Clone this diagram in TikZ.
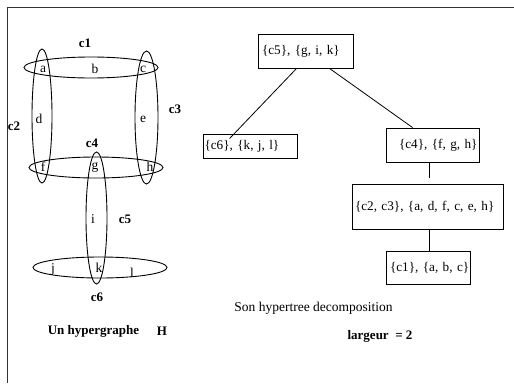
\documentclass[tikz,border=0pt]{standalone}
\usepackage{fontspec}
\setmainfont{Liberation Serif}
\begin{document}
\begin{tikzpicture}[x=1pt,y=-1pt,
  lbl/.style={font=\fontsize{13.5}{15}\selectfont, inner sep=0pt},
  bl/.style={font=\fontsize{13}{15}\selectfont\bfseries, inner sep=0pt},
  hedge/.style={draw=black, line width=0.9pt},
  tbox/.style={draw=black, line width=0.9pt, rectangle, font=\fontsize{13.2}{15}\selectfont, inner ysep=0pt},
  tline/.style={draw=black, line width=0.8pt}]
\useasboundingbox (0,0) rectangle (514,383);
% frame
\draw[line width=1pt, black!80] (514,7) -- (7.5,7) -- (7.5,383);
% hyperedges
\draw[hedge] (91,67.5) ellipse [x radius=67pt, y radius=10.5pt];
\draw[hedge] (42,116) ellipse [x radius=10pt, y radius=67pt];
\draw[hedge] (146.5,117.5) ellipse [x radius=11.5pt, y radius=66.5pt];
\draw[hedge] (96,167.5) ellipse [x radius=67pt, y radius=10.5pt];
\draw[hedge] (96.5,218) ellipse [x radius=10.5pt, y radius=66pt];
\draw[hedge] (100,267.5) ellipse [x radius=67pt, y radius=10.5pt];
% vertices
\node[lbl] (va) at (43,69) {a};
\node[lbl] (vb) at (95,69) {b};
\node[lbl] (vc) at (143,69) {c};
\node[lbl] (vd) at (39,119) {d};
\node[lbl] (ve) at (143,119) {e};
\node[lbl] (vf) at (43,167) {f};
\node[lbl] (vg) at (95,167) {g};
\node[lbl] (vh) at (150,167) {h};
\node[lbl] (vi) at (93,219) {i};
\node[lbl] (vj) at (53,269) {j};
\node[lbl] (vk) at (99,268) {k};
\node[lbl] (vl) at (132,273) {l};
% edge names
\node[bl] (n1) at (85,43) {c1};
\node[bl] (n2) at (14,126) {c2};
\node[bl] (n3) at (175,109) {c3};
\node[bl] (n4) at (92,143) {c4};
\node[bl] (n5) at (125,219) {c5};
\node[bl] (n6) at (97,297) {c6};
\node[bl] (cap1) at (93.5,331) {Un hypergraphe};
\node[bl] (cap2) at (162,331) {H};
% tree
\node[tbox, inner xsep=4pt, text width=87pt, align=left, minimum height=34pt] (t5) at (305.5,51) {\mbox{\{c5\}, \{g, i, k\}}};
\node[tbox, inner xsep=1.5pt, text width=91pt, align=left, minimum height=24pt] (t6) at (250,146) {\mbox{\{c6\}, \{k, j, l\}}};
\node[tbox, inner xsep=1.5pt, text width=90pt, align=right, minimum height=34pt] (t4) at (432.5,145) {\mbox{\{c4\}, \{f, g, h\}}};
\node[tbox, inner xsep=3pt, text width=145pt, align=left, minimum height=45pt] (t23) at (427.5,206.5) {\mbox{\{c2, c3\}, \{a, d, f, c, e, h\}}};
\node[tbox, inner xsep=4pt, text width=76pt, align=left, minimum height=33pt] (t1) at (428,267.5) {\mbox{\{c1\}, \{a, b, c\}}};
\draw[tline] ([xshift=39pt]t5.south west) -- ([xshift=27pt,yshift=-5pt]t6.north west);
\draw[tline] ([xshift=72pt]t5.south west) -- ([xshift=27pt]t4.north west);
\draw[tline] ([xshift=44pt]t4.south west) -- ([xshift=78pt,yshift=6pt]t23.north west);
\draw[tline] ([xshift=78pt]t23.south west) -- ([xshift=44pt]t1.north west);
\node[lbl] (cap3) at (313.5,308) {Son hypertree decomposition};
\node[bl] (cap4) at (380,336) {largeur~ = 2};
\end{tikzpicture}
\end{document}
